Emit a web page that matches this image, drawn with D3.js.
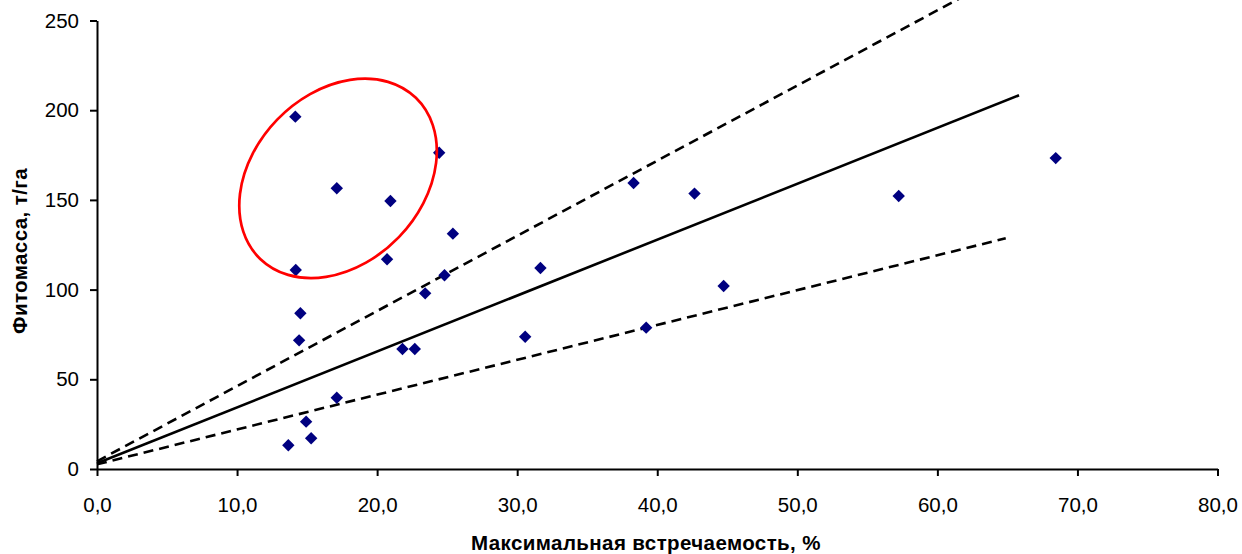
<!DOCTYPE html>
<html><head><meta charset="utf-8">
<script src="https://cdn.jsdelivr.net/npm/d3@7"></script>
<style>
html,body{margin:0;padding:0;background:#fff;}
svg{display:block;}
text{font-family:"Liberation Sans",Arial,sans-serif;}
</style></head>
<body>
<svg id="chart" width="1242" height="554"></svg>
<script>
// ---- data ----
const pointsX = [14.16,24.43,17.12,20.95,25.41,20.71,14.19,24.81,14.52,14.43,23.43,21.81,22.69,17.12,14.93,15.29,13.66,38.31,42.66,31.66,44.74,30.57,39.21,57.24,68.45];
const pointsY = [196.4,176.3,156.5,149.4,131.2,116.9,110.9,108.0,86.8,71.7,97.9,66.9,66.9,39.7,26.4,17.1,13.2,159.4,153.5,112.0,102.0,73.7,78.8,152.2,173.3];
const xTicks = [0,10,20,30,40,50,60,70,80];
const yTicks = [0,50,100,150,200,250];
const fitLine   = [[0,3.2],[65.83,208.3]];
const upperLine = [[0,4.3],[65.0,276.6]];
const lowerLine = [[0,2.6],[64.88,128.6]];
const ellipseCenter = [17.21,162.0];
const xTitle = "Максимальная встречаемость, %";
const yTitle = "Фитомасса, т/га";

// ---- chart ----
const svg = d3.select("#chart");
const x = d3.scaleLinear().domain([0,80]).range([97,1217.5]);
const y = d3.scaleLinear().domain([0,250]).range([469,20.5]);
const loc = d3.formatLocale({decimal:",",thousands:" ",grouping:[3],currency:["",""]});
const fx = loc.format(".1f");

svg.append("defs").append("clipPath").attr("id","c")
  .append("rect").attr("x",0).attr("y",0).attr("width",1242).attr("height",469);

const gx = svg.append("g").attr("transform",`translate(0,${y(0)})`)
  .call(d3.axisBottom(x).tickValues(xTicks).tickFormat(fx).tickSize(7).tickSizeOuter(0).tickPadding(21));
const gy = svg.append("g").attr("transform",`translate(${x(0)},0)`)
  .call(d3.axisLeft(y).tickValues(yTicks).tickSize(7).tickSizeOuter(0).tickPadding(11));
[gx,gy].forEach(g=>{
  g.selectAll("path.domain").attr("stroke","#000").attr("stroke-width",2);
  g.selectAll(".tick line").attr("stroke","#000").attr("stroke-width",2);
  g.selectAll(".tick text").attr("fill","#000").style("font-size","20.5px").style("font-family","'Liberation Sans',Arial,sans-serif");
});

const line = d3.line().x(d=>x(d[0])).y(d=>y(d[1]));
const lg = svg.append("g").attr("clip-path","url(#c)");
lg.append("path").attr("d",line(fitLine)).attr("fill","none").attr("stroke","#000").attr("stroke-width",2.6);
lg.append("path").attr("d",line(upperLine)).attr("fill","none").attr("stroke","#000").attr("stroke-width",2.6).attr("stroke-dasharray","10,6");
lg.append("path").attr("d",line(lowerLine)).attr("fill","none").attr("stroke","#000").attr("stroke-width",2.6).attr("stroke-dasharray","10,6");

const pts = pointsX.map((v,i)=>[v,pointsY[i]]);
const r = 6.2;
svg.append("g").selectAll("path").data(pts).join("path")
  .attr("d",d=>{const cx=x(d[0]),cy=y(d[1]);return `M${cx},${cy-r}L${cx+r},${cy}L${cx},${cy+r}L${cx-r},${cy}Z`;})
  .attr("fill","#000080");

svg.append("ellipse")
  .attr("transform",`translate(${x(ellipseCenter[0])},${y(ellipseCenter[1])}) rotate(-46)`)
  .attr("rx",112).attr("ry",84.6)
  .attr("fill","none").attr("stroke","#ff0000").attr("stroke-width",2.7);

svg.append("text").attr("x",646).attr("y",550)
  .attr("text-anchor","middle").style("font-weight","bold").style("font-size","20.5px")
  .style("letter-spacing","0.4px").text(xTitle);
svg.append("text").attr("transform",`translate(27,251) rotate(-90)`)
  .attr("text-anchor","middle").style("font-weight","bold").style("font-size","20.5px")
  .style("letter-spacing","0.4px").text(yTitle);
</script>
</body></html>
